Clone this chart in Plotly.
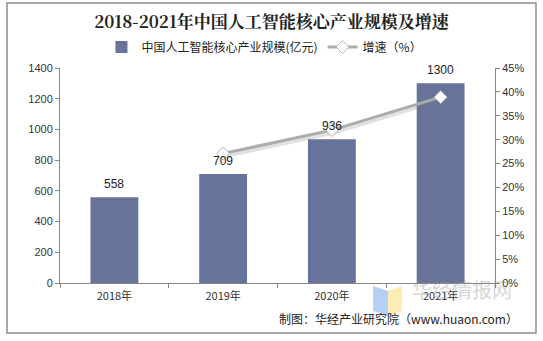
import plotly.graph_objects as go

years = ["2018年", "2019年", "2020年", "2021年"]
scale = [558, 709, 936, 1300]
growth_years = ["2019年", "2020年", "2021年"]
growth = [27.1, 32.0, 38.9]
left_ticks = [0, 200, 400, 600, 800, 1000, 1200, 1400]
right_ticks = [0, 5, 10, 15, 20, 25, 30, 35, 40, 45]

W, H = 543, 341
L, R, T, B = 60, 48, 68, 58
pw, ph = W - L - R, H - T - B

def px(x):
    return (x - L) / pw

def py(y):
    return (H - B - y) / ph

font_main = "Liberation Sans, Arial, Noto Sans CJK SC, sans-serif"
cjk = "Noto Sans CJK SC, sans-serif"

fig = go.Figure()
fig.add_trace(go.Bar(
    x=years, y=scale, name="中国人工智能核心产业规模(亿元)",
    marker=dict(color="#67739A", line=dict(width=0)),
    width=0.44,
))
# shadow line
fig.add_trace(go.Scatter(
    x=growth_years, y=[g - 0.5 for g in growth], yaxis="y2", mode="lines",
    line=dict(color="rgba(120,120,120,0.22)", width=5), showlegend=False, hoverinfo="skip",
))
fig.add_trace(go.Scatter(
    x=growth_years, y=growth, yaxis="y2", name="增速（%）",
    mode="lines+markers",
    line=dict(color="#A8AEAB", width=3),
    marker=dict(symbol="diamond", size=10, color="white", line=dict(color="#B0B4B2", width=1)),
))

axis_common = dict(
    showgrid=False, zeroline=False, showline=True, linecolor="#868686", linewidth=1,
    ticks="outside", ticklen=4, tickcolor="#868686",
    tickfont=dict(size=11, color="#333", family=font_main),
)

fig.update_layout(
    width=W, height=H,
    margin=dict(l=L, r=R, t=T, b=B),
    paper_bgcolor="white", plot_bgcolor="white",
    font=dict(family=font_main, color="#333"),
    xaxis=dict(**axis_common, type="category", tickson="boundaries",
               tickfont_family=cjk, tickfont_size=11, range=[-0.5, 3.5],
               ticklabelstandoff=3),
    yaxis=dict(**axis_common, range=[0, 1400], tickvals=left_ticks),
    yaxis2=dict(**axis_common, overlaying="y", side="right", range=[0, 45],
                tickvals=right_ticks, ticktext=[f"{v}%" for v in right_ticks]),
    legend=dict(orientation="h", x=0.47, xanchor="center", y=py(47), yanchor="middle",
                font=dict(size=12, family=cjk, color="#222"), itemwidth=30,
                bgcolor="rgba(0,0,0,0)"),
    title=dict(text="<b>2018-2021年中国人工智能核心产业规模及增速</b>",
               x=0.5, xanchor="center", y=1 - 22 / H, yanchor="middle",
               font=dict(size=17, family="Noto Serif CJK SC, Noto Sans CJK SC, serif", color="#222")),
    showlegend=True,
)

# data labels drawn on top of everything
for yr, v in zip(years, scale):
    fig.add_annotation(x=yr, y=v, xref="x", yref="y", text=str(v), showarrow=False,
                       yanchor="bottom", yshift=4,
                       font=dict(size=12, color="#222", family=font_main))

shapes = [
    dict(type="rect", xref="paper", yref="paper",
         x0=px(7), x1=px(536), y0=py(333), y1=py(3),
         line=dict(color="#8C8C8C", width=1.5), fillcolor="rgba(0,0,0,0)", layer="below"),
    dict(type="path", xref="paper", yref="paper",
         path=f"M {px(373)} {py(286)} L {px(388)} {py(291)} L {px(388)} {py(316)} L {px(373)} {py(311)} Z",
         fillcolor="rgba(120,170,240,0.55)", line=dict(width=0)),
    dict(type="path", xref="paper", yref="paper",
         path=f"M {px(388)} {py(291)} L {px(402)} {py(286)} L {px(402)} {py(311)} L {px(388)} {py(316)} Z",
         fillcolor="rgba(250,225,130,0.6)", line=dict(width=0)),
]
fig.update_layout(shapes=shapes)

fig.add_annotation(text="华经情报网", xref="paper", yref="paper", x=px(462), y=py(289),
                   xanchor="center", yanchor="middle", showarrow=False,
                   font=dict(size=20, family=cjk, color="rgba(150,150,150,0.4)"))
fig.add_annotation(text="制图：华经产业研究院（www.huaon.com）", xref="paper", yref="paper",
                   x=px(520), y=py(318), xanchor="right", yanchor="middle", showarrow=False,
                   font=dict(size=12, family=cjk, color="#222"))

fig.write_html("out.html")
